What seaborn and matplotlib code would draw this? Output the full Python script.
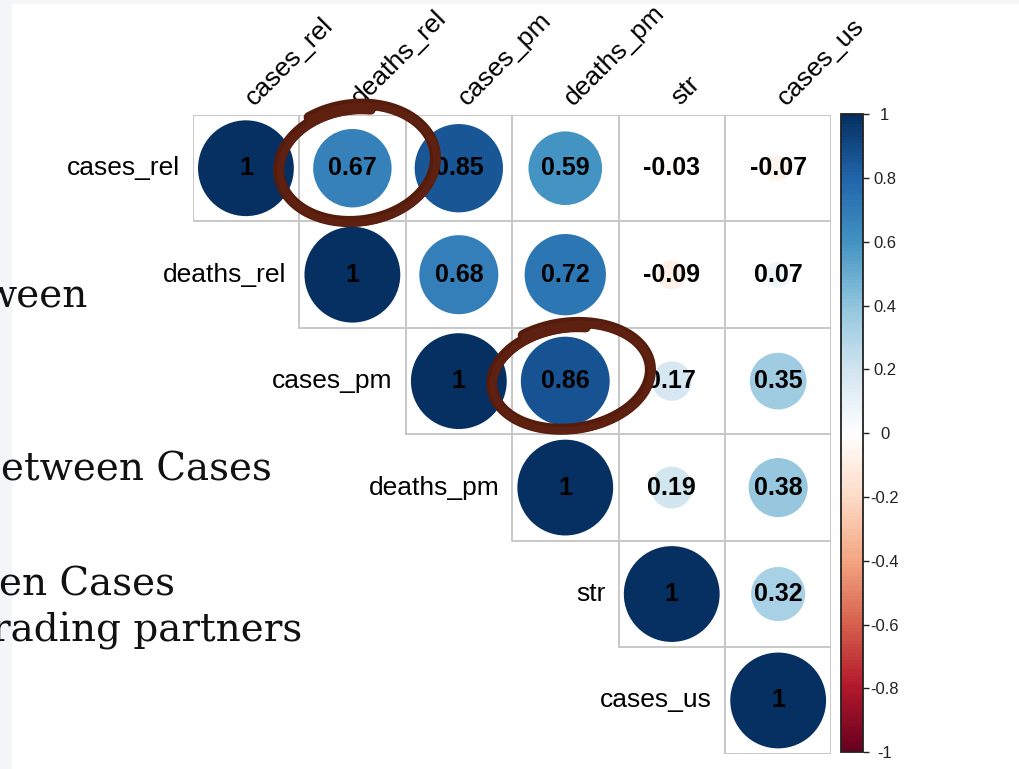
import numpy as np
import pandas as pd
import matplotlib
matplotlib.use("Agg")
import matplotlib.pyplot as plt
import seaborn as sns
from matplotlib.colors import LinearSegmentedColormap, Normalize, ListedColormap
from matplotlib.patches import Circle, Rectangle
from matplotlib.cm import ScalarMappable

# ---- data -------------------------------------------------------------
variables = ["cases_rel", "deaths_rel", "cases_pm", "deaths_pm", "str", "cases_us"]

# upper-triangle rows (diagonal first)
r_cases_rel = [1, 0.67, 0.85, 0.59, -0.03, -0.07]
r_deaths_rel = [1, 0.68, 0.72, -0.09, 0.07]
r_cases_pm = [1, 0.86, 0.17, 0.35]
r_deaths_pm = [1, 0.19, 0.38]
r_str = [1, 0.32]
r_cases_us = [1]

cbar_ticks = [-1, -0.8, -0.6, -0.4, -0.2, 0, 0.2, 0.4, 0.6, 0.8, 1]

slide_lines = ["ween", "etween Cases", "en Cases", "rading partners"]

# highlighted pairs (row, column)
highlights = [("cases_rel", "deaths_rel"), ("cases_pm", "deaths_pm")]

# ---- build matrix -----------------------------------------------------
rows = [r_cases_rel, r_deaths_rel, r_cases_pm, r_deaths_pm, r_str, r_cases_us]
n = len(variables)
mat = np.zeros((n, n))
for i, row in enumerate(rows):
    for k, v in enumerate(row):
        j = i + k
        mat[i, j] = v
        mat[j, i] = v
corr = pd.DataFrame(mat, index=variables, columns=variables)
lower = np.tril(np.ones((n, n), dtype=bool), k=-1)

# corrplot-style RdBu palette
rdbu = ["#67001F", "#B2182B", "#D6604D", "#F4A582", "#FDDBC7", "#FFFFFF",
        "#D1E5F0", "#92C5DE", "#4393C3", "#2166AC", "#053061"]
cmap = LinearSegmentedColormap.from_list("corr_rdbu", rdbu, N=200)
norm = Normalize(vmin=-1, vmax=1)

# ---- figure -----------------------------------------------------------
W, H = 1019, 769
fig = plt.figure(figsize=(W / 100, H / 100), dpi=100)
fig.patch.set_facecolor("white")

# slide edge strips
fig.add_artist(Rectangle((0, 0), 12 / W, 1, transform=fig.transFigure,
                         facecolor="#f4f5f7", edgecolor="none", zorder=0))
fig.add_artist(Rectangle((0, 1 - 4 / H), 1, 4 / H, transform=fig.transFigure,
                         facecolor="#f4f5f7", edgecolor="none", zorder=0))

# slide body text, running in from the left edge
slide_right = [88, 272, 175, 302]
slide_base = [307, 480, 595, 642]
for txt, xr, yb in zip(slide_lines, slide_right, slide_base):
    fig.text(xr / W, 1 - yb / H, txt, ha="right", va="baseline",
             fontsize=28, family="DejaVu Serif", color="#111111", zorder=1)

gx0, gy0, cell = 192.7, 115.0, 106.45
ax = fig.add_axes([gx0 / W, 1 - (gy0 + n * cell) / H, n * cell / W, n * cell / H])

sns.heatmap(corr, mask=lower, cmap=ListedColormap(["white"]), cbar=False,
            linewidths=0, xticklabels=False, yticklabels=False, ax=ax)
ax.set_xlabel("")
ax.set_ylabel("")

label_font = dict(family="Liberation Sans", color="black")

for i in range(n):
    for j in range(i, n):
        v = corr.iloc[i, j]
        ax.add_patch(Rectangle((j, i), 1, 1, facecolor="none",
                               edgecolor="#c8c8c8", lw=1.4, zorder=2))
        ax.add_patch(Circle((j + 0.5, i + 0.5), 0.45 * np.sqrt(abs(v)),
                            facecolor=cmap(norm(v)), edgecolor="none", zorder=3))
        ax.text(j + 0.5, i + 0.5, f"{v:g}", ha="center", va="center",
                fontsize=18, fontweight="bold", zorder=4, **label_font)
    # row label to the left of the diagonal cell
    ax.text(i - 0.12, i + 0.5, variables[i], ha="right", va="center",
            fontsize=19, **label_font)
    # column label above the grid
    ax.text(i + 0.61, -0.05, variables[i], ha="left", va="bottom",
            rotation=45, rotation_mode="anchor", fontsize=19, clip_on=False,
            **label_font)

# hand-drawn loops around highlighted pairs
loop_shape = {0: (0.03, -0.04, 0.73, 0.53), 1: (0.04, -0.04, 0.74, 0.48)}
for k, (rname, cname) in enumerate(highlights):
    i, j = variables.index(rname), variables.index(cname)
    dx, dy, a, b = loop_shape[k]
    cx, cy = j + 0.5 + dx, i + 0.5 + dy
    phi = np.deg2rad(-8)
    t = np.linspace(-np.pi / 2 - 0.5, -np.pi / 2 + 2 * np.pi + 0.3, 400)
    s = np.linspace(1.06, 0.97, t.size)
    xe, ye = a * s * np.cos(t), b * s * np.sin(t)
    xs = cx + xe * np.cos(phi) - ye * np.sin(phi)
    ys = cy + xe * np.sin(phi) + ye * np.cos(phi)
    ax.plot(xs, ys, color="#561c0b", lw=8, solid_capstyle="round",
            clip_on=False, zorder=6)
    ax.plot(xs + 0.012, ys + 0.015, color="#5e2010", lw=5,
            solid_capstyle="round", clip_on=False, zorder=6)

# colour bar
cax = fig.add_axes([841 / W, 1 - 752.3 / H, 21.5 / W, 638 / H])
cb = fig.colorbar(ScalarMappable(norm=norm, cmap=cmap), cax=cax, ticks=cbar_ticks)
cb.outline.set_linewidth(1.3)
cb.outline.set_edgecolor("#222222")
cax.tick_params(length=4, width=1, color="#222222", pad=12, labelsize=12,
                labelcolor="#222222")
cax.set_yticklabels([f"{v:g}" for v in cbar_ticks], family="Liberation Sans")
for lab in cax.get_yticklabels():
    lab.set_horizontalalignment("center")

fig.savefig("out.png", dpi=100)
